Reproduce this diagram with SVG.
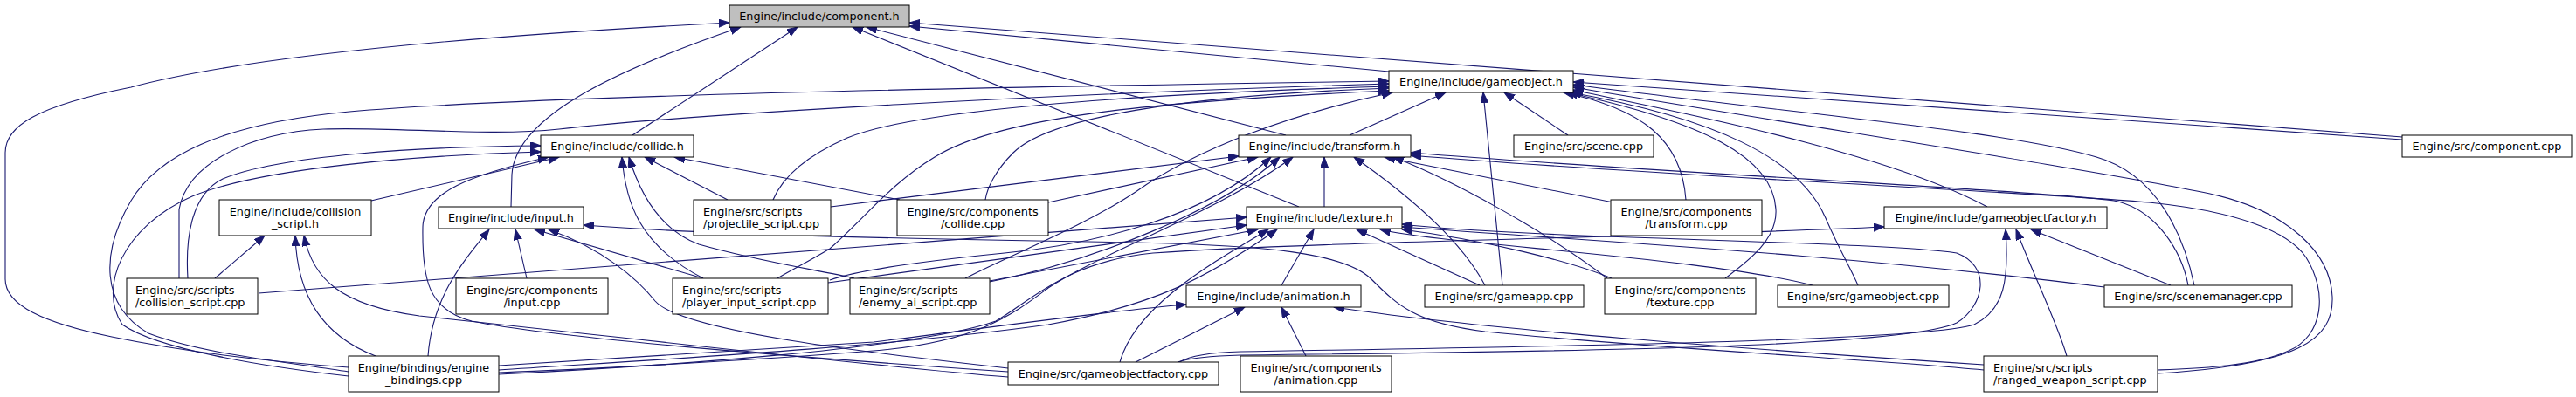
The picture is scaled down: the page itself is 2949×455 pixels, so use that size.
<svg xmlns="http://www.w3.org/2000/svg" width="2949" height="455" viewBox="0 0 2949 455">
<defs>
<style>
.n rect{fill:#fff;stroke:#000;stroke-width:1}
.n.root rect{fill:#bfbfbf}
text{font-family:"DejaVu Sans","Liberation Sans",sans-serif;font-size:12.8px;fill:#000}
.c{text-anchor:middle}
.e path{fill:none;stroke:#191970;stroke-width:1.1;marker-start:url(#ah)}
</style>
<marker id="ah" markerUnits="userSpaceOnUse" markerWidth="13" markerHeight="10" refX="12" refY="4.5" orient="auto-start-reverse"><path d="M0,0 L12,4.5 L0,9 z" fill="#191970" stroke="#191970" stroke-width="1"/></marker>
</defs>
<rect width="2949" height="455" fill="#fff"/>
<g id="edges" class="e">
<path d="M835,26 C600,38 300,60 150,100 C40,122 6,145 6,175 L6,320 C6,350 50,370 128,386 C220,405 330,416 399,421"/>
<path d="M848,31 C720,75 590,130 586,200 L585,237"/>
<path d="M913,31 L724,155"/>
<path d="M992,31 L1472,155"/>
<path d="M976,31 L1487,237"/>
<path d="M1041,30 L1590,82"/>
<path d="M1041,26 L2750,157"/>
<path d="M1655,106 L1545,155"/>
<path d="M1722,106 L1795,155"/>
<path d="M1698,106 L1720,327"/>
<path d="M1801,94 L2750,160"/>
<path d="M1801,97 C2050,130 2300,150 2400,180 C2470,200 2500,270 2512,327"/>
<path d="M1801,100 C2100,150 2400,195 2530,222 C2620,242 2668,290 2670,340 C2672,390 2630,418 2470,428"/>
<path d="M1801,103 C1900,125 2150,170 2275,237"/>
<path d="M1798,106 C1960,135 2060,180 2090,250 C2105,285 2120,310 2127,327"/>
<path d="M1790,106 C1880,125 1925,160 1930,229"/>
<path d="M1794,106 C1950,140 2030,180 2033,240 C2035,275 2000,300 1975,319"/>
<path d="M1590,93 C1100,100 600,110 400,128 C250,142 180,180 150,230 C115,290 115,350 170,382 C230,405 320,414 399,426"/>
<path d="M1590,96 C1200,108 800,130 640,148 C560,157 450,145 370,148 C290,152 215,185 205,240 L205,319"/>
<path d="M1590,99 C1300,108 1050,125 970,158 C920,180 895,205 885,229"/>
<path d="M1590,101 C1350,110 1200,135 1160,175 C1140,195 1130,215 1128,229"/>
<path d="M1594,106 C1480,130 1370,170 1300,220 C1240,260 1150,295 1105,319"/>
<path d="M1590,104 C1350,115 1150,130 1070,180 C1020,210 990,250 950,285 C925,300 905,310 890,319"/>
<path d="M619,167 C480,168 320,178 255,205 C220,222 212,270 215,319"/>
<path d="M619,174 C480,178 300,192 220,225 C140,260 112,330 140,372 C180,400 300,420 399,431"/>
<path d="M628,180 C540,200 485,220 484,260 C483,320 490,355 540,368 C650,390 950,412 1154,426"/>
<path d="M640,180 L425,230"/>
<path d="M712,180 C716,230 730,280 805,319"/>
<path d="M720,180 C735,230 760,265 800,280 C870,300 940,310 978,319"/>
<path d="M738,180 L833,229"/>
<path d="M772,180 L1030,229"/>
<path d="M303,270 L246,319"/>
<path d="M338,270 C340,340 370,385 430,408"/>
<path d="M348,270 C358,320 390,350 480,362 C700,385 1000,420 1154,432"/>
<path d="M560,263 C530,300 495,340 490,408"/>
<path d="M590,263 L603,319"/>
<path d="M612,263 L805,319"/>
<path d="M628,263 C690,285 730,320 750,345 C780,380 1000,405 1154,422"/>
<path d="M668,258 C850,272 1150,275 1300,278 C1450,281 1540,290 1570,320 C1600,350 1620,370 1700,380 C1900,400 2150,412 2271,424"/>
<path d="M1418,179 L951,237"/>
<path d="M1440,180 L1200,232"/>
<path d="M1455,180 C1380,250 1250,280 1150,290 C1050,300 980,310 950,321"/>
<path d="M1465,180 C1400,240 1250,300 1133,323"/>
<path d="M1480,180 C1400,240 1260,290 1200,330 C1160,360 1120,392 1000,402 C850,414 650,424 571,427"/>
<path d="M1516,180 L1516,237"/>
<path d="M1550,180 C1600,215 1670,270 1700,327"/>
<path d="M1585,180 L1847,232"/>
<path d="M1595,180 C1660,205 1770,265 1840,319"/>
<path d="M1615,175 C1900,198 2330,218 2420,230 C2470,240 2498,290 2505,327"/>
<path d="M1615,178 C1900,202 2330,220 2460,232 C2560,242 2620,265 2640,295 C2665,335 2660,385 2620,402 C2580,420 2520,422 2470,424"/>
<path d="M1427,249 L296,336"/>
<path d="M1427,258 L948,324"/>
<path d="M1440,263 L1133,322"/>
<path d="M1452,263 C1390,300 1300,350 1282,415"/>
<path d="M1462,263 C1380,320 1320,350 1200,372 C1000,400 700,415 571,424"/>
<path d="M1504,263 L1467,327"/>
<path d="M1553,263 L1694,327"/>
<path d="M1580,263 C1650,280 1950,295 2075,327"/>
<path d="M1605,263 C1700,275 1800,300 1845,319"/>
<path d="M1605,257 C1750,274 2150,276 2240,290 C2280,305 2272,350 2240,370 C2180,398 1800,403 1420,407 C1380,408 1360,411 1348,415"/>
<path d="M1605,260 C1800,275 2100,290 2409,329"/>
<path d="M1358,349 C1250,358 1100,380 1000,392 C800,405 650,414 571,419"/>
<path d="M1425,352 L1300,415"/>
<path d="M1467,352 L1495,408"/>
<path d="M1527,352 C1700,378 2000,400 2271,418"/>
<path d="M2296,263 C2300,320 2295,355 2260,372 C2200,392 1700,398 1420,403 C1380,404 1360,409 1350,415"/>
<path d="M2308,263 C2330,320 2355,370 2366,408"/>
<path d="M2325,263 L2485,327"/>
<path d="M2157,260 C1900,272 1500,277 1320,290 C1220,300 1180,345 1140,368 C1050,400 750,420 571,429"/>
</g>
<g id="n-component-h" class="n root"><rect x="835" y="6" width="206" height="25"/><text class="c" x="938" y="23">Engine/include/component.h</text></g>
<g id="n-gameobject-h" class="n"><rect x="1590" y="81" width="211" height="25"/><text class="c" x="1695.5" y="98">Engine/include/gameobject.h</text></g>
<g id="n-collide-h" class="n"><rect x="619" y="155" width="175" height="25"/><text class="c" x="706.5" y="172">Engine/include/collide.h</text></g>
<g id="n-transform-h" class="n"><rect x="1418" y="155" width="197" height="25"/><text class="c" x="1516.5" y="172">Engine/include/transform.h</text></g>
<g id="n-scene-cpp" class="n"><rect x="1733" y="155" width="160" height="25"/><text class="c" x="1813" y="172">Engine/src/scene.cpp</text></g>
<g id="n-component-cpp" class="n"><rect x="2750" y="155" width="194" height="25"/><text class="c" x="2847" y="172">Engine/src/component.cpp</text></g>
<g id="n-collision-script-h" class="n"><rect x="251" y="229" width="174" height="41"/><text class="c" x="338" y="246.5">Engine/include/collision</text><text class="c" x="338" y="261">_script.h</text></g>
<g id="n-input-h" class="n"><rect x="502" y="237" width="166" height="25"/><text class="c" x="585" y="254">Engine/include/input.h</text></g>
<g id="n-projectile-script-cpp" class="n"><rect x="794" y="229" width="157" height="41"/><text x="805" y="246.5">Engine/src/scripts</text><text x="805" y="261">/projectile_script.cpp</text></g>
<g id="n-collide-cpp" class="n"><rect x="1027" y="229" width="173" height="41"/><text class="c" x="1113.5" y="246.5">Engine/src/components</text><text class="c" x="1113.5" y="261">/collide.cpp</text></g>
<g id="n-texture-h" class="n"><rect x="1427" y="237" width="178" height="25"/><text class="c" x="1516" y="254">Engine/include/texture.h</text></g>
<g id="n-transform-cpp" class="n"><rect x="1844" y="229" width="173" height="41"/><text class="c" x="1930.5" y="246.5">Engine/src/components</text><text class="c" x="1930.5" y="261">/transform.cpp</text></g>
<g id="n-gameobjectfactory-h" class="n"><rect x="2157" y="237" width="255" height="25"/><text class="c" x="2284.5" y="254">Engine/include/gameobjectfactory.h</text></g>
<g id="n-collision-script-cpp" class="n"><rect x="145" y="319" width="150" height="41"/><text x="155" y="336.5">Engine/src/scripts</text><text x="155" y="351">/collision_script.cpp</text></g>
<g id="n-input-cpp" class="n"><rect x="522" y="319" width="174" height="41"/><text class="c" x="609" y="336.5">Engine/src/components</text><text class="c" x="609" y="351">/input.cpp</text></g>
<g id="n-player-input-script-cpp" class="n"><rect x="770" y="319" width="178" height="41"/><text x="781" y="336.5">Engine/src/scripts</text><text x="781" y="351">/player_input_script.cpp</text></g>
<g id="n-enemy-ai-script-cpp" class="n"><rect x="973" y="319" width="160" height="41"/><text x="983" y="336.5">Engine/src/scripts</text><text x="983" y="351">/enemy_ai_script.cpp</text></g>
<g id="n-animation-h" class="n"><rect x="1358" y="327" width="200" height="25"/><text class="c" x="1458" y="344">Engine/include/animation.h</text></g>
<g id="n-gameapp-cpp" class="n"><rect x="1631" y="327" width="182" height="25"/><text class="c" x="1722" y="344">Engine/src/gameapp.cpp</text></g>
<g id="n-texture-cpp" class="n"><rect x="1837" y="319" width="173" height="41"/><text class="c" x="1923.5" y="336.5">Engine/src/components</text><text class="c" x="1923.5" y="351">/texture.cpp</text></g>
<g id="n-gameobject-cpp" class="n"><rect x="2035" y="327" width="196" height="25"/><text class="c" x="2133" y="344">Engine/src/gameobject.cpp</text></g>
<g id="n-scenemanager-cpp" class="n"><rect x="2409" y="327" width="215" height="25"/><text class="c" x="2516.5" y="344">Engine/src/scenemanager.cpp</text></g>
<g id="n-engine-bindings-cpp" class="n"><rect x="399" y="408" width="172" height="41"/><text class="c" x="485" y="425.5">Engine/bindings/engine</text><text class="c" x="485" y="440">_bindings.cpp</text></g>
<g id="n-gameobjectfactory-cpp" class="n"><rect x="1154" y="415" width="241" height="26"/><text class="c" x="1274.5" y="432.5">Engine/src/gameobjectfactory.cpp</text></g>
<g id="n-animation-cpp" class="n"><rect x="1420" y="408" width="173" height="41"/><text class="c" x="1506.5" y="425.5">Engine/src/components</text><text class="c" x="1506.5" y="440">/animation.cpp</text></g>
<g id="n-ranged-weapon-script-cpp" class="n"><rect x="2271" y="408" width="199" height="41"/><text x="2282" y="425.5">Engine/src/scripts</text><text x="2282" y="440">/ranged_weapon_script.cpp</text></g>
</svg>
